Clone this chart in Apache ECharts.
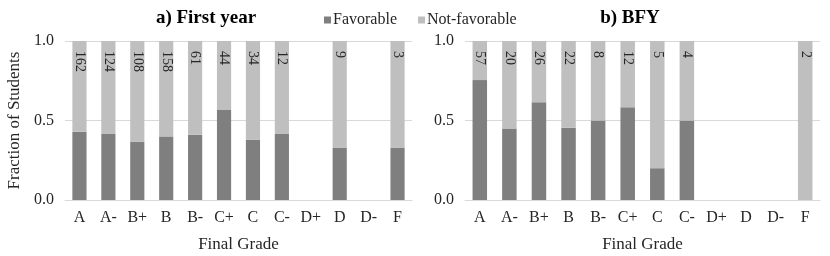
<!DOCTYPE html>
<html><head><meta charset="utf-8">
<script src="https://cdn.jsdelivr.net/npm/echarts@6/dist/echarts.min.js"></script>
<style>html,body{margin:0;padding:0;background:#fff}#c{width:830px;height:256px}</style>
</head><body><div id="c"></div>
<script>
const grades = ['A','A-','B+','B','B-','C+','C','C-','D+','D','D-','F'];
const yTicks = ['0.0','0.5','1.0'];
const fyFavorable = [0.43,0.415,0.367,0.40,0.41,0.566,0.38,0.415,null,0.33,null,0.33];
const fyCounts = [162,124,108,158,61,44,34,12,null,9,null,3];
const bfyFavorable = [0.754,0.45,0.615,0.455,0.5,0.583,0.2,0.5,null,null,null,0];
const bfyCounts = [57,20,26,22,8,12,5,4,null,null,null,2];

const notFav = arr => arr.map(v => v == null ? null : +(1 - v).toFixed(3));
const FONT = '"Liberation Serif", "DejaVu Serif", serif';
const TXT = '#262626';
const DARK = '#7f7f7f', LIGHT = '#bfbfbf';

function xAxis(i){
  return {type:'category', gridIndex:i, data:grades,
    axisLine:{show:true,lineStyle:{color:'#d9d9d9',width:1}}, axisTick:{show:false},
    axisLabel:{fontFamily:FONT,fontSize:16,color:TXT,margin:10},
    name:'Final Grade', nameLocation:'middle', nameGap:36,
    nameTextStyle:{fontFamily:FONT,fontSize:17,color:TXT}};
}
function yAxis(i, named){
  return {type:'value', gridIndex:i, min:0, max:1, interval:0.5,
    axisLine:{show:false}, axisTick:{show:false},
    splitLine:{lineStyle:{color:'#d9d9d9',width:1}},
    axisLabel:{fontFamily:FONT,fontSize:16,color:TXT,margin:11,
      formatter: v => yTicks[Math.round(v*2)]},
    name: named ? 'Fraction of Students' : '', nameLocation:'middle', nameGap:42,
    nameTextStyle:{fontFamily:FONT,fontSize:17,color:TXT}};
}
function series(i, fav, counts){
  return [
    {name:'Favorable', type:'bar', stack:'s'+i, xAxisIndex:i, yAxisIndex:i,
      data:fav, barWidth:'49%', itemStyle:{color:DARK}},
    {name:'Not-favorable', type:'bar', stack:'s'+i, xAxisIndex:i, yAxisIndex:i,
      data:notFav(fav), barWidth:'49%', itemStyle:{color:LIGHT},
      label:{show:true, position:'insideTop', distance:10, rotate:-90,
        align:'left', verticalAlign:'middle',
        fontFamily:FONT, fontSize:14, color:TXT,
        formatter: p => counts[p.dataIndex] == null ? '' : String(counts[p.dataIndex])}}
  ];
}
const chart = echarts.init(document.getElementById('c'));
chart.setOption({
  animation:false,
  textStyle:{fontFamily:FONT},
  title:[
    {text:'a) First year', left:201, top:4, textAlign:'center',
      textStyle:{fontFamily:FONT,fontSize:19,fontWeight:'bold',color:'#000'}},
    {text:'b) BFY', left:625, top:4, textAlign:'center',
      textStyle:{fontFamily:FONT,fontSize:19,fontWeight:'bold',color:'#000'}}
  ],
  legend:{left:319, top:7, icon:'rect', itemWidth:7, itemHeight:7, itemGap:21,
    textStyle:{fontFamily:FONT,fontSize:16,color:TXT,padding:[0,0,0,-3]},
    data:['Favorable','Not-favorable']},
  grid:[
    {left:65, right:418, top:41, bottom:56, outerBoundsMode:'none', containLabel:false},
    {left:465, right:10, top:41, bottom:56, outerBoundsMode:'none', containLabel:false}
  ],
  xAxis:[xAxis(0), xAxis(1)],
  yAxis:[yAxis(0,true), yAxis(1,false)],
  series:[...series(0, fyFavorable, fyCounts), ...series(1, bfyFavorable, bfyCounts)]
});
</script></body></html>
